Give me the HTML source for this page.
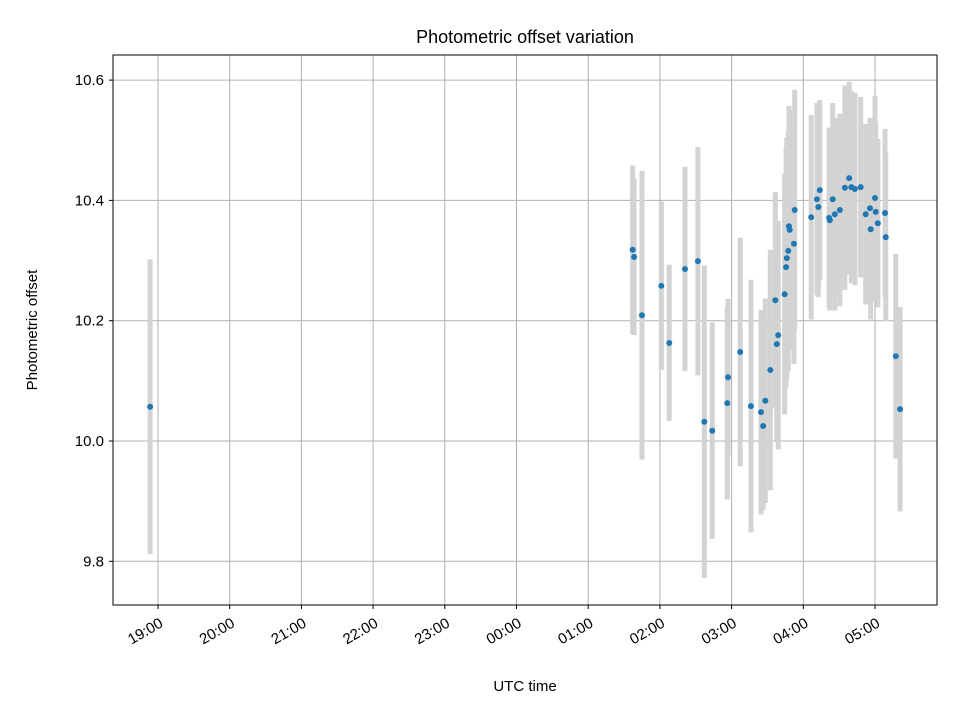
<!DOCTYPE html>
<html><head><meta charset="utf-8"><style>
body{margin:0;background:#fff}
svg text{font-family:"Liberation Sans","DejaVu Sans",sans-serif;fill:#000}
</style></head><body>
<svg id="chart" width="960" height="720" xmlns="http://www.w3.org/2000/svg">
<rect width="960" height="720" fill="#fff"/>
<g id="grid"></g><g id="bars"></g><g id="pts"></g><g id="ticks"></g>
<rect x="113" y="55" width="824" height="550" fill="none" stroke="#000" stroke-width="1"/>
<text x="525" y="43" font-size="18" text-anchor="middle">Photometric offset variation</text>
<text x="525" y="691" font-size="15" text-anchor="middle">UTC time</text>
<text transform="translate(37,330) rotate(-90)" font-size="15" text-anchor="middle">Photometric offset</text>
</svg>
<script>
// hours since 00:00 of first day (after midnight +24)
const hours=[18.89,25.62,25.64,25.75,26.02,26.13,26.35,26.53,26.62,26.73,26.94,26.95,27.12,27.27,27.41,27.44,27.47,27.54,27.61,27.65,27.63,27.74,27.76,27.77,27.79,27.80,27.81,27.87,27.88,28.11,28.19,28.21,28.23,28.36,28.37,28.41,28.44,28.51,28.58,28.64,28.67,28.72,28.80,28.87,28.93,28.94,29.00,29.01,29.04,29.14,29.15,29.29,29.35];
const offsets=[10.057,10.318,10.306,10.209,10.258,10.163,10.286,10.299,10.032,10.017,10.063,10.106,10.148,10.058,10.048,10.025,10.067,10.118,10.234,10.176,10.161,10.244,10.289,10.304,10.316,10.357,10.351,10.328,10.384,10.372,10.402,10.389,10.417,10.371,10.367,10.402,10.377,10.384,10.421,10.437,10.422,10.419,10.422,10.377,10.387,10.352,10.404,10.381,10.362,10.379,10.339,10.141,10.053];
const errors=[0.245,0.14,0.13,0.24,0.14,0.13,0.17,0.19,0.26,0.18,0.16,0.13,0.19,0.21,0.17,0.14,0.17,0.2,0.18,0.19,0.16,0.2,0.2,0.2,0.2,0.2,0.2,0.2,0.2,0.17,0.16,0.15,0.15,0.15,0.15,0.16,0.16,0.16,0.17,0.16,0.16,0.16,0.15,0.15,0.15,0.15,0.17,0.15,0.14,0.14,0.14,0.17,0.17];
const xTickHours=[19,20,21,22,23,24,25,26,27,28,29];
const xTickLabels=["19:00","20:00","21:00","22:00","23:00","00:00","01:00","02:00","03:00","04:00","05:00"];
const yTicks=[9.8,10.0,10.2,10.4,10.6];
const yTickLabels=["9.8","10.0","10.2","10.4","10.6"];

const X=h=>158+(h-19)*71.7;
const Y=v=>441-(v-10)*601.5;
const NS="http://www.w3.org/2000/svg";
function mk(tag,parent,attrs){const e=document.createElementNS(NS,tag);for(const k in attrs)e.setAttribute(k,attrs[k]);document.getElementById(parent).appendChild(e);return e;}

xTickHours.forEach((h,i)=>{
  const x=X(h);
  const g=mk('line','grid',{x1:x,x2:x,y1:55,y2:605,stroke:'#b0b0b0','stroke-width':1});
  
  
  const t=mk('line','ticks',{x1:x,x2:x,y1:605,y2:609,stroke:'#000'});
  
  
  const l=mk('text','ticks',{transform:`translate(${x+6},${626}) rotate(-30)`,'font-size':15,'text-anchor':'end'});
  l.textContent=xTickLabels[i];
  
  
});
yTicks.forEach((v,i)=>{
  const y=Y(v);
  const g=mk('line','grid',{x1:113,x2:937,y1:y,y2:y,stroke:'#b0b0b0','stroke-width':1});
  
  
  const t=mk('line','ticks',{x1:109,x2:113,y1:y,y2:y,stroke:'#000'});
  
  
  const l=mk('text','ticks',{x:104,y:y+5,'font-size':15,'text-anchor':'end'});
  l.textContent=yTickLabels[i];
  
  
});
hours.forEach((h,i)=>{
  const x=X(h);
  const b=mk('line','bars',{x1:x,x2:x,y1:Y(offsets[i]+errors[i]),y2:Y(offsets[i]-errors[i]),stroke:'#d3d3d3','stroke-width':5});
  
  
  const p=mk('circle','pts',{cx:x,cy:Y(offsets[i]),r:3,fill:'#1f77b4'});
  
  
});
</script>
</body></html>
